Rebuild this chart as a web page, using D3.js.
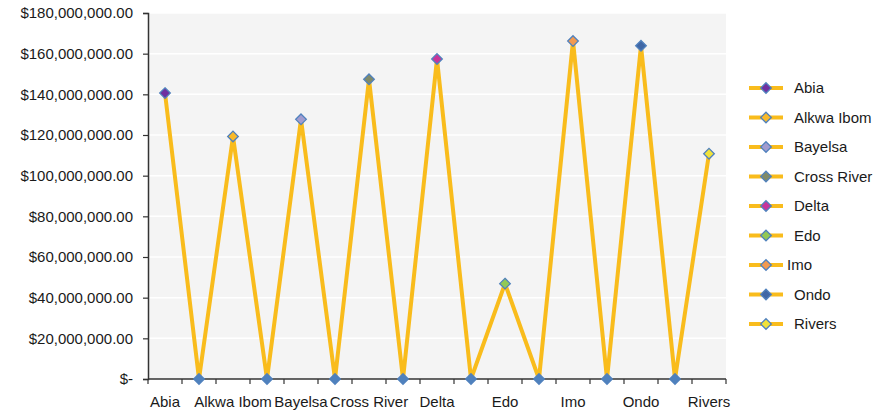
<!DOCTYPE html>
<html>
<head>
<meta charset="utf-8">
<script src="https://cdn.jsdelivr.net/npm/d3@7/dist/d3.min.js"></script>
<style>
  html, body { margin: 0; padding: 0; background: #ffffff; }
  svg text { font-family: "Liberation Sans", Arial, Helvetica, sans-serif; fill: #1a1a1a; }
</style>
</head>
<body>
<svg id="chart" width="884" height="413"></svg>
<script>
// Category slots along the x axis: each state is followed by an empty slot
const categories = ["Abia", "", "Alkwa Ibom", "", "Bayelsa", "", "Cross River", "", "Delta", "",
                    "Edo", "", "Imo", "", "Ondo", "", "Rivers"];
// Amount per slot (empty slots sit at zero)
const values = [140600000, 0, 119300000, 0, 127700000, 0, 147400000, 0, 157400000, 0,
                46900000, 0, 166200000, 0, 163900000, 0, 110800000];
// Legend entries and their marker fills
const states = ["Abia", "Alkwa Ibom", "Bayelsa", "Cross River", "Delta", "Edo", "Imo", "Ondo", "Rivers"];
const stateColors = ["#7030a0", "#f9b92a", "#a29ccf", "#808a68", "#c8359a", "#92c955", "#f39a50", "#3f67a6", "#f1e23a"];
const yTicks = [0, 20000000, 40000000, 60000000, 80000000, 100000000, 120000000, 140000000, 160000000, 180000000];

const lineColor = "#f9bc1c";
const markerStroke = "#4f81bd";

const svg = d3.select("#chart");
const plotLeft = 148, plotRight = 726, plotTop = 13, plotBottom = 379;

const x = d3.scaleBand().domain(d3.range(categories.length)).range([plotLeft, plotRight]).padding(0);
const y = d3.scaleLinear().domain([0, 180000000]).range([plotBottom, plotTop]);

// plot background
svg.append("rect").attr("x", plotLeft).attr("y", plotTop)
  .attr("width", plotRight - plotLeft).attr("height", plotBottom - plotTop).attr("fill", "#f4f4f4");

// horizontal gridlines
svg.append("g").selectAll("line").data(yTicks.slice(1)).join("line")
  .attr("x1", plotLeft).attr("x2", plotRight)
  .attr("y1", d => y(d)).attr("y2", d => y(d))
  .attr("stroke", "#ffffff").attr("stroke-width", 1.5);

const fmt = d => d === 0 ? "$-" : "$" + d3.format(",.2f")(d);

// y axis
const yAxis = svg.append("g").attr("transform", `translate(${plotLeft},0)`)
  .call(d3.axisLeft(y).tickValues(yTicks).tickFormat(fmt).tickSize(5).tickPadding(10));
yAxis.select(".domain").attr("stroke", "#333").attr("stroke-width", 1.5);
yAxis.selectAll(".tick line").attr("stroke", "#333").attr("stroke-width", 1.2);
yAxis.selectAll(".tick text").attr("font-size", 15).attr("fill", "#1a1a1a")
  .attr("font-family", "'Liberation Sans', Arial, sans-serif");

// x axis: tick marks on slot boundaries
const xAxisG = svg.append("g");
xAxisG.append("line").attr("x1", plotLeft).attr("x2", plotRight).attr("y1", plotBottom).attr("y2", plotBottom)
  .attr("stroke", "#333").attr("stroke-width", 1.5);
const bounds = d3.range(categories.length + 1).map(i => i < categories.length ? x(i) : x(i - 1) + x.bandwidth());
xAxisG.selectAll("line.tk").data(bounds).join("line").attr("class", "tk")
  .attr("x1", d => d).attr("x2", d => d).attr("y1", plotBottom).attr("y2", plotBottom + 5)
  .attr("stroke", "#333").attr("stroke-width", 1.2);
xAxisG.selectAll("text").data(categories.map((c, i) => ({ c, i })).filter(d => d.c !== "")).join("text")
  .attr("x", d => x(d.i) + x.bandwidth() / 2).attr("y", 407)
  .attr("text-anchor", "middle").attr("font-size", 15)
  .text(d => d.c);

// the line through all slots
const line = d3.line().x((d, i) => x(i) + x.bandwidth() / 2).y(d => y(d));
svg.append("path").datum(values).attr("d", line)
  .attr("fill", "none").attr("stroke", lineColor).attr("stroke-width", 4)
  .attr("stroke-linejoin", "round");

// diamond markers
const diamond = d3.symbol().type(d3.symbolDiamond2).size(72);
svg.append("g").selectAll("path").data(values.map((v, i) => ({ v, i }))).join("path")
  .attr("d", diamond)
  .attr("transform", d => `translate(${x(d.i) + x.bandwidth() / 2},${y(d.v)})`)
  .attr("fill", d => {
    const k = states.indexOf(categories[d.i]);
    return k >= 0 ? stateColors[k] : markerStroke;
  })
  .attr("stroke", markerStroke).attr("stroke-width", 1.3);

// legend
const legend = svg.append("g");
const rowY = i => 88 + i * 29.5;
states.forEach((s, i) => {
  const g = legend.append("g").attr("transform", `translate(0,${rowY(i)})`);
  g.append("line").attr("x1", 749).attr("x2", 783).attr("y1", 0).attr("y2", 0)
    .attr("stroke", lineColor).attr("stroke-width", 4);
  g.append("path").attr("d", diamond).attr("transform", "translate(766,0)")
    .attr("fill", stateColors[i]).attr("stroke", markerStroke).attr("stroke-width", 1.3);
  g.append("text").attr("x", s === "Imo" ? 787 : 794).attr("y", 5).attr("font-size", 15).text(s);
});
</script>
</body>
</html>
